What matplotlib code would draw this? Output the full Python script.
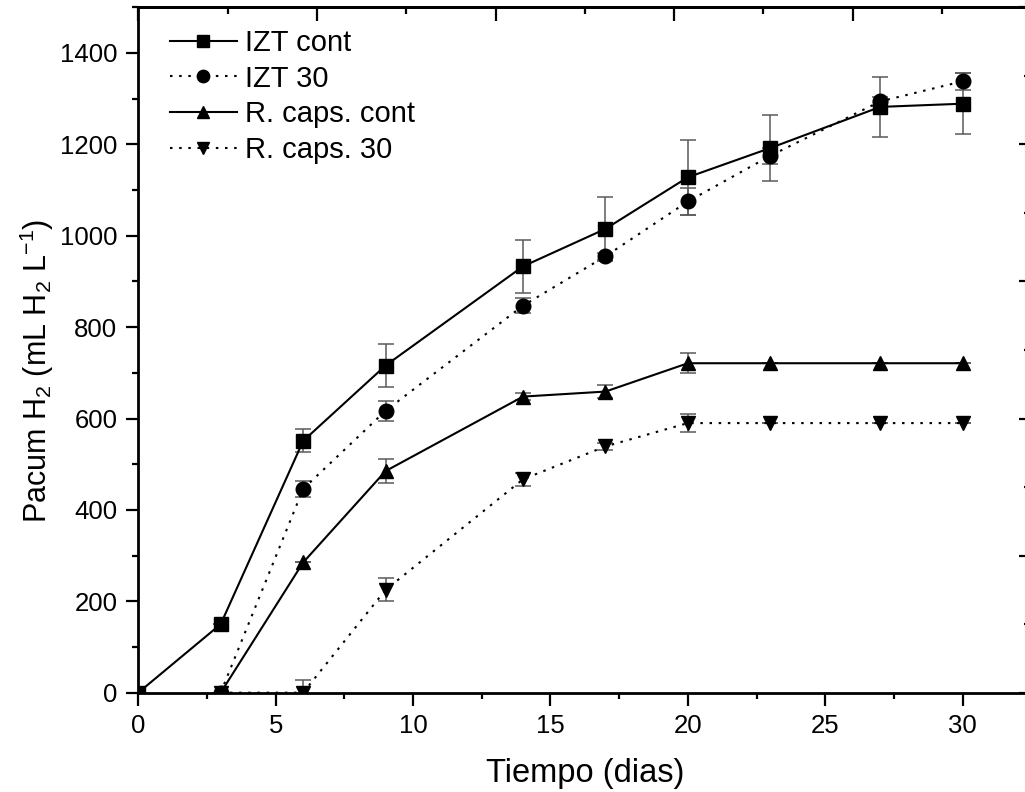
import matplotlib
matplotlib.use("Agg")
import matplotlib.pyplot as plt
from matplotlib.ticker import MultipleLocator

plt.rcParams["font.family"] = ["Liberation Sans", "DejaVu Sans"]
plt.rcParams["mathtext.fontset"] = "custom"
plt.rcParams["mathtext.rm"] = "Liberation Sans"
plt.rcParams["mathtext.it"] = "Liberation Sans:italic"

# data
dias_izt_cont = [0, 3, 6, 9, 14, 17, 20, 23, 27, 30]
izt_cont = [0, 150, 551, 716, 933, 1015, 1128, 1192, 1282, 1289]
izt_cont_err = [0, 0, 25, 47, 58, 70, 82, 73, 65, 67]

dias = [3, 6, 9, 14, 17, 20, 23, 27, 30]
izt_30 = [0, 446, 617, 847, 955, 1075, 1175, 1294, 1338]
izt_30_err = [0, 18, 22, 16, 8, 29, 17, 10, 18]

rcaps_cont = [0, 285, 485, 648, 659, 721, 721, 721, 721]
rcaps_cont_err = [0, 0, 26, 8, 14, 22, 0, 0, 0]

rcaps_30 = [0, 0, 225, 467, 539, 590, 590, 590, 590]
rcaps_30_err = [0, 28, 25, 14, 8, 20, 0, 0, 0]

labels = ["IZT cont", "IZT 30", "R. caps. cont", "R. caps. 30"]

fig = plt.figure(figsize=(10.25, 7.92), dpi=100)
ax = fig.add_axes([0.1349, 0.1254, 0.8713, 0.8654])

dots = (0, (1.2, 3.2))
err_kw = dict(ecolor="#5a5a5a", elinewidth=1.1, capsize=6, capthick=1.1)
line_kw = dict(color="black", lw=1.5, markersize=10.5, clip_on=True)

series = []
series.append(ax.errorbar(dias_izt_cont, izt_cont, yerr=izt_cont_err, marker="s", ls="-",
                          **line_kw, **err_kw))
series.append(ax.errorbar(dias, izt_30, yerr=izt_30_err, marker="o", ls=dots,
                          **line_kw, **err_kw))
series.append(ax.errorbar(dias, rcaps_cont, yerr=rcaps_cont_err, marker="^", ls="-",
                          **line_kw, **err_kw))
series.append(ax.errorbar(dias, rcaps_30, yerr=rcaps_30_err, marker="v", ls=dots,
                          **line_kw, **err_kw))

ax.set_xlim(0, 32.5)
ax.set_ylim(0, 1500)
ax.xaxis.set_major_locator(MultipleLocator(5))
ax.xaxis.set_minor_locator(MultipleLocator(2.5))
ax.yaxis.set_major_locator(MultipleLocator(200))
ax.yaxis.set_minor_locator(MultipleLocator(100))
ax.tick_params(which="major", direction="out", length=9, width=1.6,
               labelsize=18.5, pad=6, top=False, right=False)
ax.tick_params(which="minor", direction="out", length=4.5, width=1.6,
               top=False, right=False)
for s in ax.spines.values():
    s.set_linewidth(2.0)

# second layer scales on top and right (labels fall outside the picture)
top = ax.secondary_xaxis("top", functions=(lambda x: x / 6.5, lambda v: v * 6.5))
top.xaxis.set_major_locator(MultipleLocator(1))
top.xaxis.set_minor_locator(MultipleLocator(0.5))
top.tick_params(which="major", direction="in", length=10, width=1.6, labeltop=False)
top.tick_params(which="minor", direction="in", length=5, width=1.6)
top.spines["top"].set_linewidth(2.0)

right = ax.secondary_yaxis("right", functions=(lambda y: y / 300, lambda v: v * 300))
right.yaxis.set_major_locator(MultipleLocator(1))
right.yaxis.set_minor_locator(MultipleLocator(0.5))
right.tick_params(which="major", direction="in", length=9, width=1.6, labelright=False)
right.tick_params(which="minor", direction="in", length=5, width=1.6)

ax.set_xlabel("Tiempo (dias)", fontsize=23.5, labelpad=15)
ax.set_ylabel("Pacum H$_2$ (mL H$_2$ L$^{-1}$)", fontsize=22)
ax.yaxis.set_label_coords(-0.092, 0.47)

handles = [c[0] for c in series]
ax.legend(handles, labels, loc="upper left", frameon=False, fontsize=21,
          handlelength=2.3, handletextpad=0.27, labelspacing=0.26,
          borderaxespad=0.3, bbox_to_anchor=(0.0125, 0.998), markerscale=0.85)

fig.savefig("out.png", dpi=100)
